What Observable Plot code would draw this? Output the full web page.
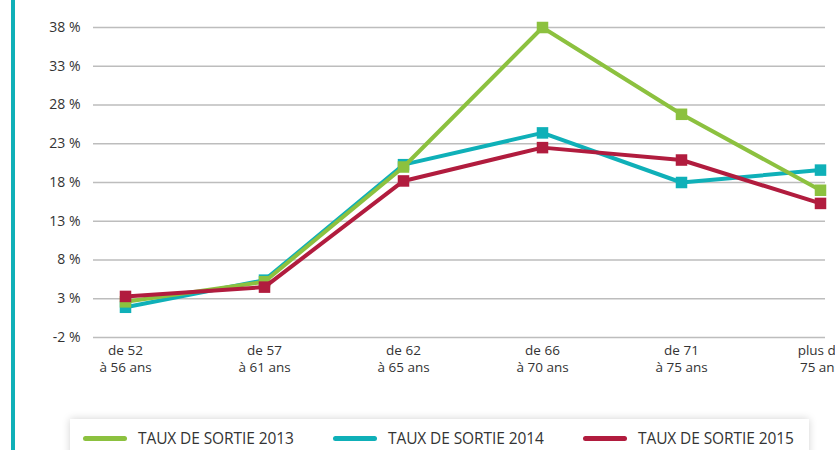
<!DOCTYPE html>
<html>
<head>
<meta charset="utf-8">
<script src="https://cdn.jsdelivr.net/npm/d3@7"></script>
<script src="https://cdn.jsdelivr.net/npm/@observablehq/plot@0.6"></script>
<style>
  html, body { margin: 0; padding: 0; background: #fff; overflow: hidden; }
  #wrap { position: relative; width: 835px; height: 450px; font-family: "Open Sans", Lato, sans-serif; }
  #bar { position: absolute; left: 11px; top: 0; width: 4px; height: 450px; background: #0fb0b8; }
  #chart { position: absolute; left: 0; top: 0; }
  #legend { position: absolute; left: 70px; top: 419px; width: 739px; height: 60px; background: #fff;
            box-shadow: 0 0 8px rgba(0,0,0,0.18); }
  .item { position: absolute; top: 8px; height: 22px; display: flex; align-items: center; font-size: 15.5px; color: #333; letter-spacing: -0.1px; white-space: nowrap; }
  .sw { width: 44px; height: 5px; border-radius: 3px; margin-right: 11px; flex: none; }
</style>
</head>
<body>
<div id="wrap">
  <div id="bar"></div>
  <div id="chart"></div>
  <div id="legend"></div>
</div>
<script>
const categories = ["de 52\nà 56 ans", "de 57\nà 61 ans", "de 62\nà 65 ans", "de 66\nà 70 ans", "de 71\nà 75 ans", "plus de\n75 ans"];
const taux2013 = [2.6, 5.2, 20.0, 38.0, 26.8, 17.0];
const taux2014 = [1.9, 5.4, 20.3, 24.4, 18.0, 19.6];
const taux2015 = [3.3, 4.5, 18.2, 22.5, 20.9, 15.3];
const yTicks = [-2, 3, 8, 13, 18, 23, 28, 33, 38];
const seriesNames = ["TAUX DE SORTIE 2013", "TAUX DE SORTIE 2014", "TAUX DE SORTIE 2015"];
const colors = ["#8cc13f", "#0fb0b8", "#b11c3e"];

const toRows = (vals, s) => vals.map((v, i) => ({cat: categories[i], value: v, series: s}));
const rows = [toRows(taux2013, seriesNames[0]), toRows(taux2014, seriesNames[1]), toRows(taux2015, seriesNames[2])];
const drawOrder = [1, 0, 2];

const marks = [
  Plot.ruleY(yTicks, {stroke: "#bdbdbd", strokeWidth: 1.5}),
  Plot.axisY({ticks: yTicks, tickSize: 0, tickPadding: 13, tickFormat: d => d + " %", fontSize: 14, fill: "#333", label: null}),
  Plot.axisX({tickSize: 0, tickPadding: 6, fontSize: 13.5, fill: "#333", lineHeight: 1.25, label: null})
];
for (const k of drawOrder) {
  marks.push(Plot.line(rows[k], {x: "cat", y: "value", stroke: colors[k], strokeWidth: 4}));
  marks.push(Plot.dot(rows[k], {x: "cat", y: "value", symbol: "square", r: 6.5, fill: colors[k], stroke: "none"}));
}

const chart = Plot.plot({
  width: 835,
  height: 410,
  marginTop: 27,
  marginBottom: 73,
  marginLeft: 93,
  marginRight: 10,
  style: {fontFamily: "'Open Sans', Lato, sans-serif", overflow: "visible", background: "transparent"},
  x: {type: "point", domain: categories, range: [124, 821], padding: 0},
  y: {domain: [-2, 38]},
  marks
});
document.getElementById("chart").appendChild(chart);

const legend = document.getElementById("legend");
const lefts = [13, 263, 513];
seriesNames.forEach((name, i) => {
  const it = document.createElement("div");
  it.className = "item";
  it.style.left = lefts[i] + "px";
  it.innerHTML = `<span class="sw" style="background:${colors[i]}"></span><span>${name}</span>`;
  legend.appendChild(it);
});
</script>
</body>
</html>
